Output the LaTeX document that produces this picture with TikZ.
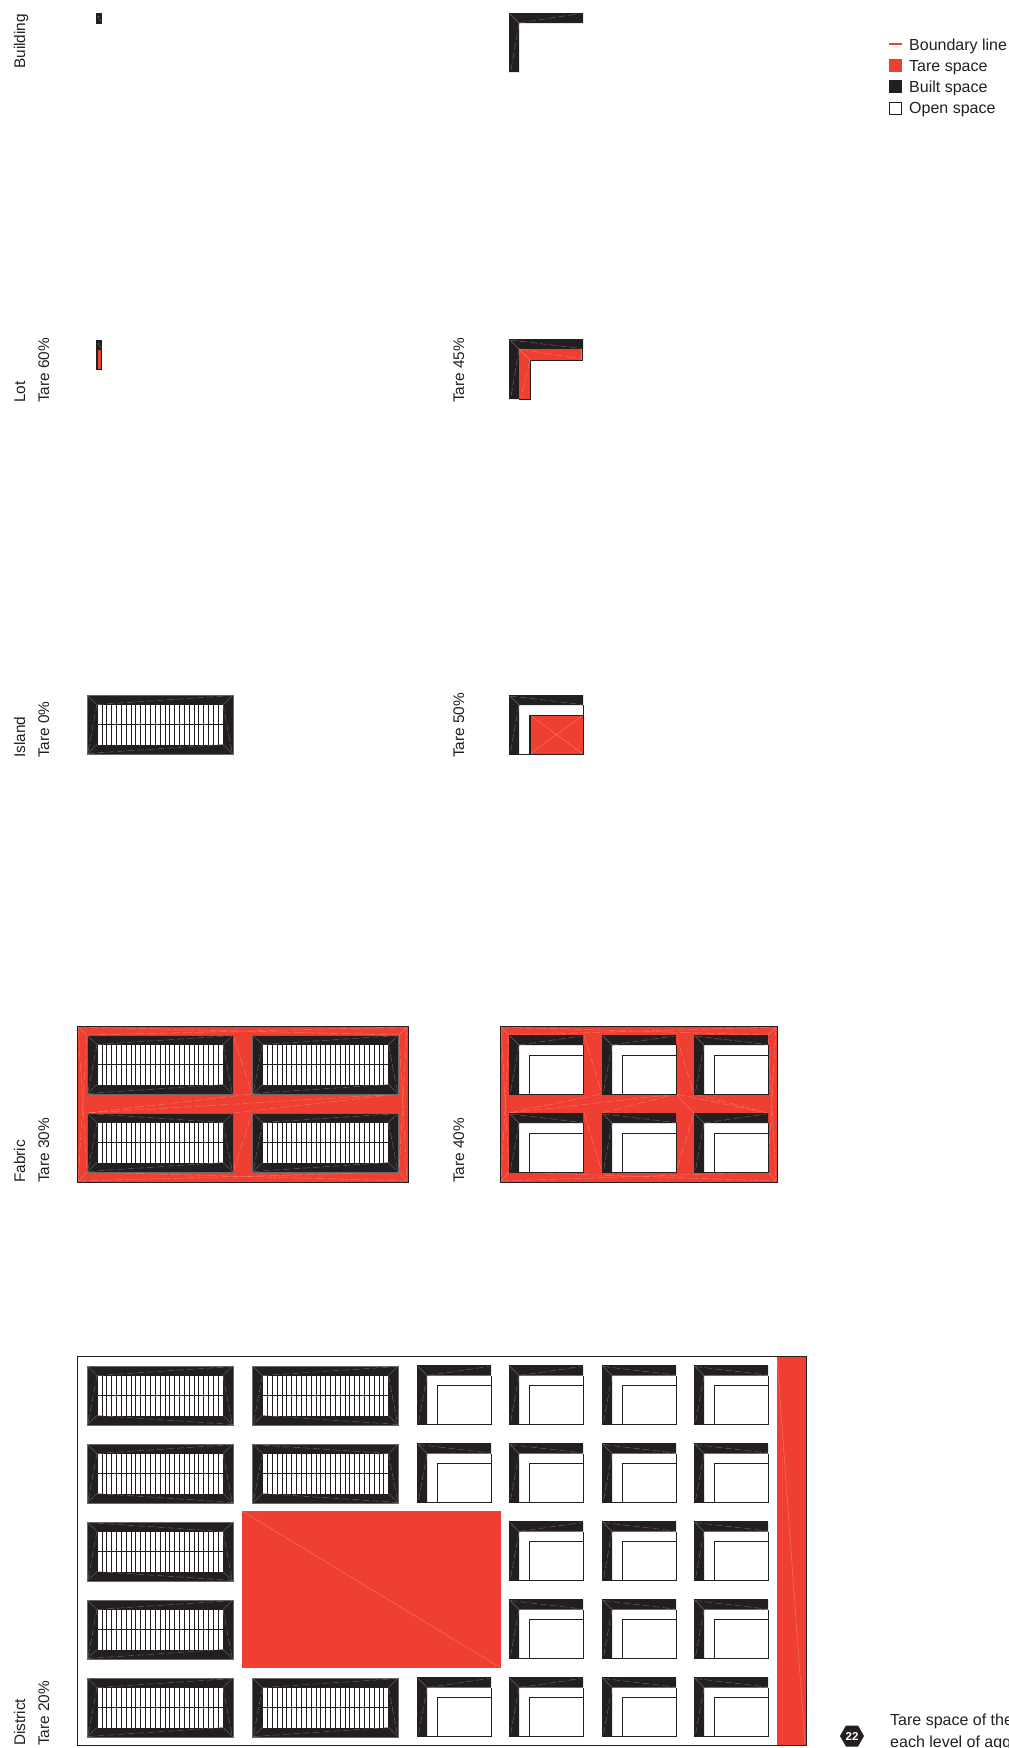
\documentclass[tikz,border=0pt]{standalone}
\usepackage{fontspec}
\setmainfont{Liberation Sans}
\definecolor{tare}{HTML}{EF3F33}
\definecolor{built}{HTML}{231F20}
\definecolor{seam}{HTML}{6A6768}
\definecolor{seamr}{HTML}{F4766C}
\tikzset{
  x=1pt,y=-1pt,
  edge/.style={draw=built,line width=0.8pt},
  seamk/.style={draw=seam,line width=0.4pt},
  seamkd/.style={draw=seam,line width=0.45pt,dash pattern=on 7pt off 3pt},
  seamt/.style={draw=seamr,line width=0.45pt},
  seamtd/.style={draw=seamr,line width=0.45pt,dash pattern=on 9pt off 3pt},
  rib/.style={draw=built,line width=0.6pt},
  lab/.style={rotate=90,anchor=base west,inner sep=0pt,text=built,font=\fontsize{15.4}{18}\selectfont},
  leg/.style={anchor=base west,inner sep=0pt,text=built,font=\fontsize{16}{19}\selectfont},
}
% perimeter block: x y topvariant bottomvariant (a/b)
\newcommand{\slab}[4]{%
\begin{scope}[shift={(#1,#2)}]
  \fill[built] (0,0) rectangle (146,59);
  \fill[white] (10,9.5) rectangle (136,49.5);
  \foreach \k in {0,...,26}{\draw[rib] ({10+\k*4.846},9.5) -- ({10+\k*4.846},49.5);}
  \draw[rib] (10,29.5) -- (136,29.5);
  \draw[seamk] (0,0) -- (10,9.5) (146,0) -- (136,9.5) (0,59) -- (10,49.5) (146,59) -- (136,49.5);
  \draw[seamkd] (10,9.5) -- (1,57) (136,9.5) -- (145,57);
  \if#3a\draw[seamkd] (10,9.5) -- (146,0.5);\else\draw[seamkd] (0.5,0.5) -- (136,9.5);\fi
  \if#4a\draw[seamkd] (0.5,58.5) -- (136,49.5);\else\draw[seamkd] (10,49.5) -- (146,58.5);\fi
  \draw[draw=seam,line width=0.4pt] (0,0) rectangle (146,59);
\end{scope}}
% L-shaped block with open court: x y variant
\newcommand{\lbldg}[3]{%
\begin{scope}[shift={(#1,#2)}]
  \fill[white] (0,0) rectangle (74,59);
  \fill[built] (0,0) -- (74,0) -- (74,10) -- (10,10) -- (10,59) -- (0,59) -- cycle;
  \draw[seamk] (1,1) -- (10,10);
  \draw[seamkd] (10,10) -- (1.5,57);
  \if#3a\draw[seamkd] (10,10) -- (72,1);\else\draw[seamkd] (1,1) -- (73,9.5);\fi
  \draw[edge] (10,59) -- (74,59) -- (74,10);
  \draw[edge] (20.5,59) -- (20.5,20) -- (74,20);
  \draw[draw=built,line width=0.5pt] (0,0) -- (74,0) (0,0) -- (0,59) -- (10,59);
\end{scope}}
\begin{document}
\begin{tikzpicture}
\useasboundingbox (0,0) rectangle (1009,1748);
\clip (0,0) rectangle (1009,1748);

% --- labels ---
\node[lab] (lbuilding) at (25,69) {Building};
\node[lab] (llot) at (25,403) {Lot};
\node[lab] (tlot) at (49,403) {Tare 60\%};
\node[lab] (tlot2) at (464,403) {Tare 45\%};
\node[lab] (lisland) at (25,758) {Island};
\node[lab] (tisland) at (49,758) {Tare 0\%};
\node[lab] (tisland2) at (464,758) {Tare 50\%};
\node[lab] (lfabric) at (25,1183) {Fabric};
\node[lab] (tfabric) at (49,1183) {Tare 30\%};
\node[lab] (tfabric2) at (464,1183) {Tare 40\%};
\node[lab] (ldistrict) at (25,1746) {District};
\node[lab] (tdistrict) at (49,1746) {Tare 20\%};

% --- legend ---
\draw[tare,line width=1.6pt] (889,44) -- (902,44);
\fill[tare] (889,59) rectangle (902,72);
\fill[built] (889,80) rectangle (902,93);
\draw[draw=built,line width=0.8pt,fill=white] (889.5,102) rectangle (901.5,114);
\node[leg] (lg1) at (909,50) {Boundary line};
\node[leg] (lg2) at (909,71) {Tare space};
\node[leg] (lg3) at (909,92) {Built space};
\node[leg] (lg4) at (909,113.5) {Open space};

% --- building level ---
\fill[built] (96,13) rectangle (102,24);
\fill[seam] (98,16) rectangle (99,18) (99.5,19) rectangle (100.5,21);
\fill[built] (509,13) -- (583,13) -- (583,23) -- (519,23) -- (519,72) -- (509,72) -- cycle;
\draw[seamk] (510,14) -- (519,23);
\draw[seamkd] (519,23) -- (511,70);
\draw[seamkd] (519,23) -- (577,14);

% --- lot level ---
\fill[built] (96,340) rectangle (102,370);
\fill[tare] (98,350) rectangle (100.7,369);
\fill[seam] (98,343) rectangle (99,345) (99.5,345.5) rectangle (100.5,347.5);
\fill[built] (509,339) -- (583,339) -- (583,349) -- (519,349) -- (519,399) -- (509,399) -- cycle;
\fill[built] (581.5,349) rectangle (583,360);
\fill[tare] (519,349) -- (581.5,349) -- (581.5,360) -- (530,360) -- (530,399) -- (519,399) -- cycle;
\draw[edge] (519,399) -- (530,399) -- (530,360) -- (583,360);
\draw[seamk] (510,340) -- (519,349);
\draw[seamkd] (510,340) -- (581,348.5);
\draw[seamkd] (519,349) -- (511,397);
\draw[seamt] (519,349) -- (530,360);
\draw[seamtd] (519,349) -- (581,359);
\draw[seamtd] (530,360) -- (521,398);

% --- island level ---
\slab{87}{695}{a}{a}
\lbldg{509}{695}{b}
\fill[tare] (530,715) rectangle (583,754);
\draw[seamt] (530,715) -- (583,754) (530,754) -- (583,715);
\draw[edge] (530,754) -- (530,715) -- (583,715) -- (583,754) -- cycle;

% --- fabric level, tare 30 ---
\fill[tare] (77,1026) rectangle (408,1182);
\draw[seamt] (78,1027) -- (87,1035) (407,1027) -- (399,1035) (78,1181) -- (87,1172) (407,1181) -- (399,1172);
\draw[seamtd] (87,1035) -- (407,1027) (78,1027) -- (399,1035);
\draw[seamtd] (78,1181) -- (399,1172) (87,1172) -- (407,1181);
\draw[seamtd] (87,1035) -- (78,1181) (78,1027) -- (87,1172);
\draw[seamtd] (399,1035) -- (407,1181) (407,1027) -- (399,1172);
\draw[seamtd] (233,1035) -- (252,1094) (233,1172) -- (252,1113);
\draw[seamtd] (87,1113) -- (399,1094) (87,1113) -- (252,1094) (233,1113) -- (399,1094);
\draw[draw=built,line width=1pt] (77,1026) rectangle (408,1182);
\slab{87}{1035}{a}{a}
\slab{252.5}{1035}{a}{a}
\slab{87}{1113}{b}{a}
\slab{252.5}{1113}{a}{a}

% --- fabric level, tare 40 ---
\fill[tare] (500,1026) rectangle (777,1182);
\draw[seamt] (501,1027) -- (509,1035) (776,1027) -- (768,1035) (501,1181) -- (509,1172) (776,1181) -- (768,1172);
\draw[seamtd] (509,1035) -- (776,1027) (501,1027) -- (768,1035);
\draw[seamtd] (501,1181) -- (768,1172) (509,1172) -- (776,1181);
\draw[seamtd] (509,1035) -- (501,1181) (501,1027) -- (509,1172);
\draw[seamtd] (768,1035) -- (776,1181) (776,1027) -- (768,1172);
\draw[seamtd] (584,1035) -- (602,1094) (676,1035) -- (694,1094);
\draw[seamtd] (584,1113) -- (602,1172) (694,1113) -- (676,1172);
\draw[seamtd] (509,1113) -- (602,1094) (509,1113) -- (676,1094) (602,1113) -- (676,1094);
\draw[seamtd] (676,1094) -- (768,1113) (694,1094) -- (768,1113);
\draw[seamt] (676,1094) -- (694,1113);
\draw[draw=built,line width=1pt] (500,1026) rectangle (777,1182);
\lbldg{509}{1035}{a}
\lbldg{602}{1035}{a}
\lbldg{694}{1035}{b}
\lbldg{509}{1113}{b}
\lbldg{602}{1113}{b}
\lbldg{694}{1113}{a}

% --- district level ---
\fill[tare] (777,1356) rectangle (806.5,1745);
\draw[seamt] (777,1357) -- (805,1744);
\draw[draw=built,line width=1pt] (77,1356) rectangle (806.5,1745);
\fill[tare] (242,1511) rectangle (501,1668);
\draw[seamt] (242,1511) -- (501,1668);
\foreach \yy/\tv/\bv in {1366/a/b,1444/a/b,1522/b/b,1600/a/a,1678/a/a}{\slab{87}{\yy}{\tv}{\bv}}
\slab{252.5}{1366}{a}{b}
\slab{252.5}{1444}{b}{b}
\slab{252.5}{1678}{a}{a}
\lbldg{417}{1365.5}{a}
\lbldg{417}{1443.5}{b}
\lbldg{417}{1677.5}{a}
\foreach \xx/\lv in {509/a,602/b,694/b}{
  \lbldg{\xx}{1365.5}{\lv}
  \lbldg{\xx}{1443.5}{b}
  \lbldg{\xx}{1521.5}{\lv}
  \lbldg{\xx}{1599.5}{b}
  \lbldg{\xx}{1677.5}{\lv}
}

% --- note ---
\fill[built] (840,1736) -- (846,1725.5) -- (858,1725.5) -- (864,1736) -- (858,1746.5) -- (846,1746.5) -- cycle;
\node[inner sep=0pt,text=white,font=\fontsize{11.5}{13}\selectfont\bfseries] (num) at (852,1736) {22};
\node[leg] (note1) at (890,1725) {Tare space of the};
\node[leg] (note2) at (890,1747) {each level of agg};
\end{tikzpicture}
\end{document}
